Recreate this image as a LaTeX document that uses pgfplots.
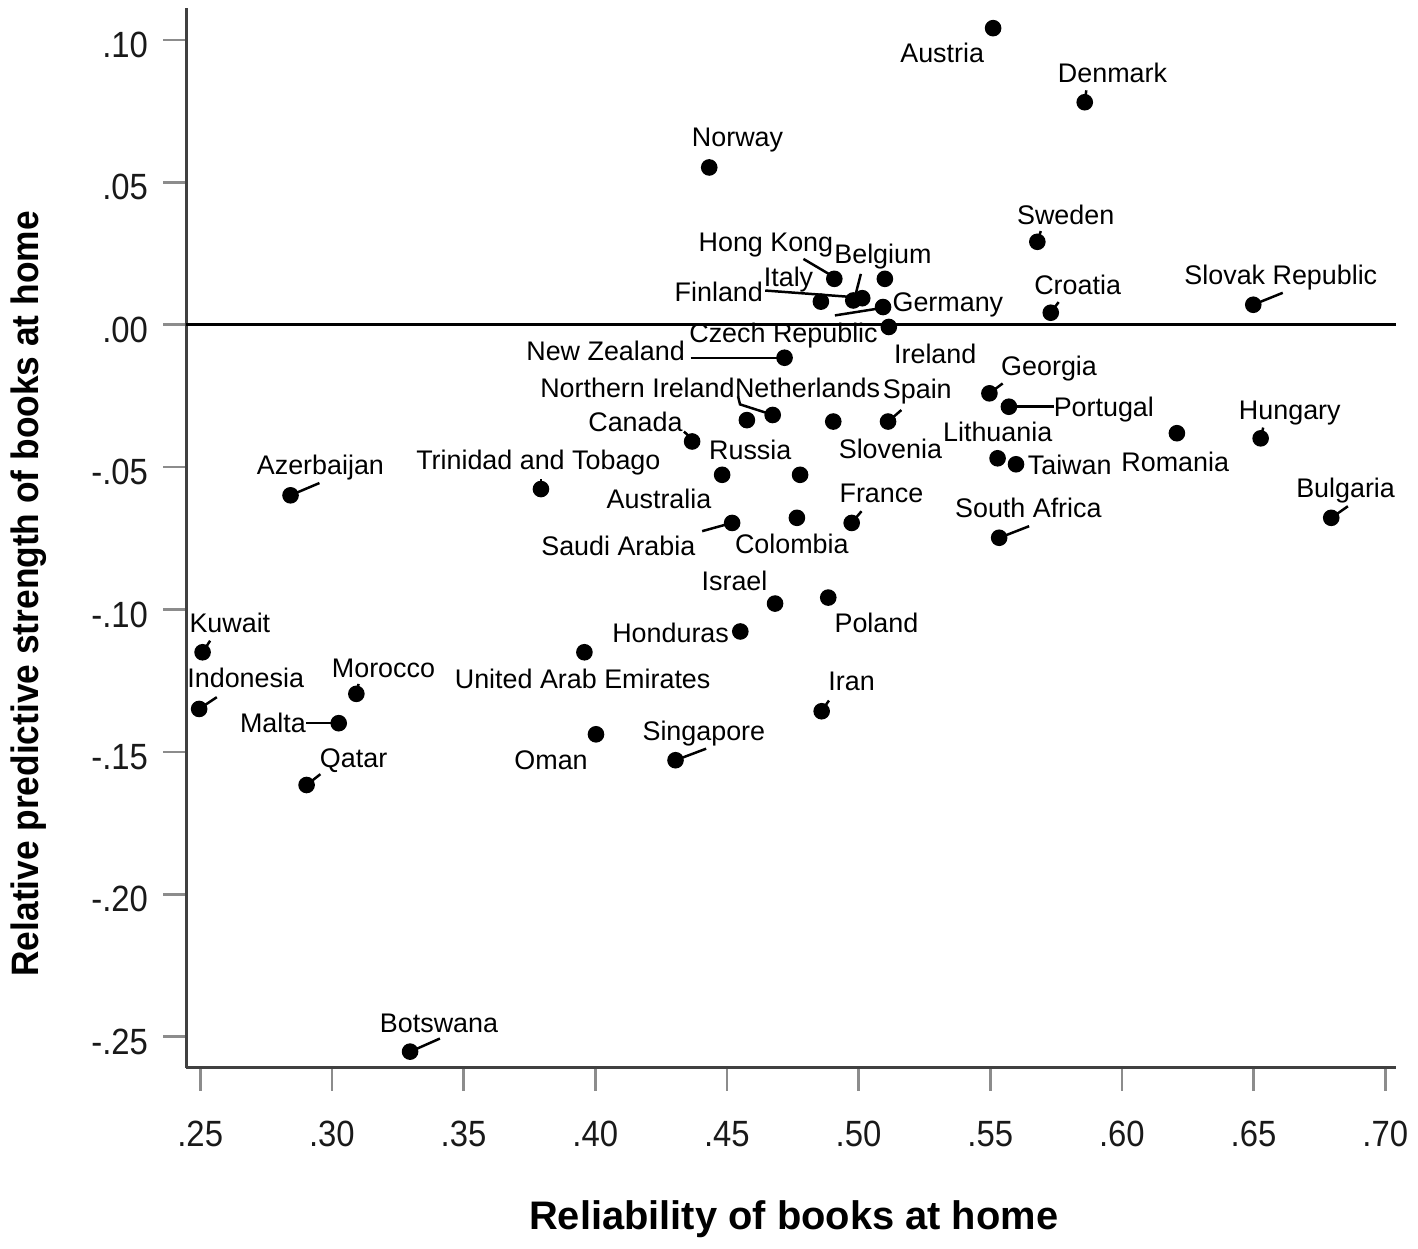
\documentclass[border=0pt]{standalone}
\usepackage{fontspec}
\setmainfont{Liberation Sans}
\usepackage{graphicx}
\usepackage{pgfplots}
\usepackage{pgfplotstable}
\pgfplotsset{compat=1.18}
\tikzset{
  lbl/.style={font=\fontsize{8.1}{9}\selectfont, anchor=base, inner sep=0pt},
  ldr/.style={line width=0.75pt, black},
}
\newcommand{\PX}[1]{0.25+(#1-196)/2644}
\newcommand{\PY}[1]{0.1-(#1-40)/2860}
\newcommand{\lab}[3]{\node[lbl] at (axis cs:{\PX{#1}},{\PY{#2}}) {#3};}
\newcommand{\ldr}[4]{\draw[ldr] (axis cs:{\PX{#1}},{\PY{#2}}) -- (axis cs:{\PX{#3}},{\PY{#4}});}
\pgfplotstableread{
x y
0.5511 0.1041
0.5859 0.0781
0.4433 0.0552
0.5679 0.0291
0.5730 0.0042
0.6499 0.0070
0.4908 0.0161
0.5100 0.0161
0.4857 0.0081
0.4980 0.0085
0.5014 0.0093
0.5093 0.0062
0.5115 -0.0008
0.4719 -0.0116
0.5497 -0.0241
0.5571 -0.0288
0.4576 -0.0335
0.4674 -0.0317
0.4904 -0.0340
0.5112 -0.0340
0.4368 -0.0410
0.3794 -0.0577
0.4482 -0.0527
0.4778 -0.0527
0.5528 -0.0469
0.5598 -0.0490
0.6209 -0.0381
0.6527 -0.0399
0.6795 -0.0678
0.5534 -0.0748
0.2843 -0.0599
0.4520 -0.0696
0.4766 -0.0678
0.4974 -0.0696
0.4683 -0.0979
0.4885 -0.0958
0.4551 -0.1077
0.3959 -0.1150
0.4860 -0.1357
0.4003 -0.1438
0.4305 -0.1529
0.2509 -0.1150
0.2496 -0.1349
0.3093 -0.1296
0.3026 -0.1399
0.2904 -0.1616
0.3297 -0.2552
}\pts
\begin{document}
\begin{tikzpicture}
\begin{axis}[
  scale only axis, width=364.5pt, height=319.2pt,
  xmin=0.2447, xmax=0.7042, ymin=-0.2608, ymax=0.1112,
  axis x line=bottom, axis y line=left,
  axis line style={-, draw=black!75, line width=0.9pt},
  xtick={0.25,0.30,0.35,0.40,0.45,0.50,0.55,0.60,0.65,0.70},
  xticklabels={.25,.30,.35,.40,.45,.50,.55,.60,.65,.70},
  ytick={-0.25,-0.20,-0.15,-0.10,-0.05,0,0.05,0.10},
  yticklabels={-.25,-.20,-.15,-.10,-.05,.00,.05,.10},
  tick align=outside, major tick length=7pt,
  tick style={draw=black!45, line width=0.8pt},
  ticklabel style={font=\fontsize{11}{13}\selectfont, xscale=0.9, text=black!90},
  xticklabel style={yshift=-5.7pt},
  yticklabel style={xshift=-1.5pt, yshift=-1.5pt},
  clip=false,
]
\addplot[black, line width=0.9pt, forget plot] coordinates {(0.2447,0) (0.7042,0)};
\addplot[only marks, mark=*, mark size=2.3pt, black] table {\pts};
\lab{941}{63}{Austria}
\lab{1112}{83}{Denmark}
\lab{735.5}{147}{Norway}
\lab{1065}{225}{Sweden}
\lab{1077}{296}{Croatia}
\lab{1281}{286}{Slovak Republic}
\lab{764}{253}{Hong Kong}
\lab{881.5}{265}{Belgium}
\lab{786.7}{288}{Italy}
\lab{716.7}{303}{Finland}
\lab{946.7}{313}{Germany}
\lab{781.7}{344}{Czech Republic}
\lab{934}{365}{Ireland}
\lab{603}{362}{New Zealand}
\lab{635}{399}{Northern Ireland}
\lab{805.8}{399}{Netherlands}
\lab{916}{400}{Spain}
\lab{1048.3}{377}{Georgia}
\lab{1103.3}{418}{Portugal}
\lab{633}{433}{Canada}
\lab{1290}{421}{Hungary}
\lab{996.7}{443}{Lithuania}
\lab{889}{460}{Slovenia}
\lab{748.3}{461}{Russia}
\lab{535.5}{471}{Trinidad and Tobago}
\lab{316.7}{476}{Azerbaijan}
\lab{1069}{476}{Taiwan}
\lab{1175}{473}{Romania}
\lab{1346}{500}{Bulgaria}
\lab{880}{505}{France}
\lab{656.7}{511}{Australia}
\lab{1027.5}{520}{South Africa}
\lab{615.8}{558}{Saudi Arabia}
\lab{790}{556}{Colombia}
\lab{732.5}{593}{Israel}
\lab{875}{635}{Poland}
\lab{225.8}{635}{Kuwait}
\lab{668.3}{645}{Honduras}
\lab{380}{680}{Morocco}
\lab{241.7}{690}{Indonesia}
\lab{580}{691}{United Arab Emirates}
\lab{850}{693}{Iran}
\lab{269}{735}{Malta}
\lab{701.7}{743}{Singapore}
\lab{548.3}{773}{Oman}
\lab{350}{771}{Qatar}
\lab{435.8}{1037}{Botswana}
\ldr{801.7}{260}{830}{276.7}
\ldr{859.3}{275}{854}{296}
\ldr{763.3}{291.7}{851.7}{298.3}
\ldr{833.3}{316.7}{880}{309.3}
\ldr{688.3}{359.3}{780}{359.3}
\draw[ldr] (axis cs:{\PX{736}},{\PY{398}}) -- (axis cs:{\PX{738}},{\PY{406}}) -- (axis cs:{\PX{766}},{\PY{415}});
\ldr{886.7}{423.3}{900}{411.7}
\ldr{681.7}{433.3}{690}{441}
\ldr{850}{525}{860}{513.3}
\ldr{700}{533.3}{730}{525}
\ldr{988.3}{395}{1001.7}{385}
\ldr{1008}{408.3}{1053.3}{408.3}
\ldr{1260.7}{440}{1263.3}{429.3}
\ldr{1331.7}{520}{1348.3}{508.3}
\ldr{998.3}{540}{1028.3}{528.3}
\ldr{286.7}{497.3}{315.7}{485}
\ldr{198.3}{655}{206}{643.3}
\ldr{195}{711.7}{212.7}{700}
\ldr{352.7}{696.7}{355}{686.7}
\ldr{302.7}{726}{335}{726}
\ldr{302.7}{788.3}{316.7}{777.3}
\ldr{820}{714}{827.3}{703.3}
\ldr{673.3}{763.3}{704}{751.7}
\ldr{406.7}{1056}{436.7}{1042.7}
\ldr{1253.2}{306}{1282.9}{294}
\ldr{1036.4}{242.7}{1040}{232}
\ldr{1050}{314}{1057.9}{303.3}
\ldr{1084}{102.7}{1085.7}{90.7}
\ldr{538}{491}{538}{481}
\node[rotate=90, anchor=center] at (rel axis cs:-0.1300,0.447) {\scalebox{0.925}[1]{\fontsize{11.5}{13}\selectfont\bfseries Relative predictive strength of books at home}};
\node[anchor=base] at (rel axis cs:0.502,-0.1525) {\fontsize{12}{14}\selectfont\bfseries Reliability of books at home};
\end{axis}
\path (current axis.south west) ++(-54.6pt,-52.5pt) rectangle ++(425.4pt,374.1pt);
\end{tikzpicture}
\end{document}
